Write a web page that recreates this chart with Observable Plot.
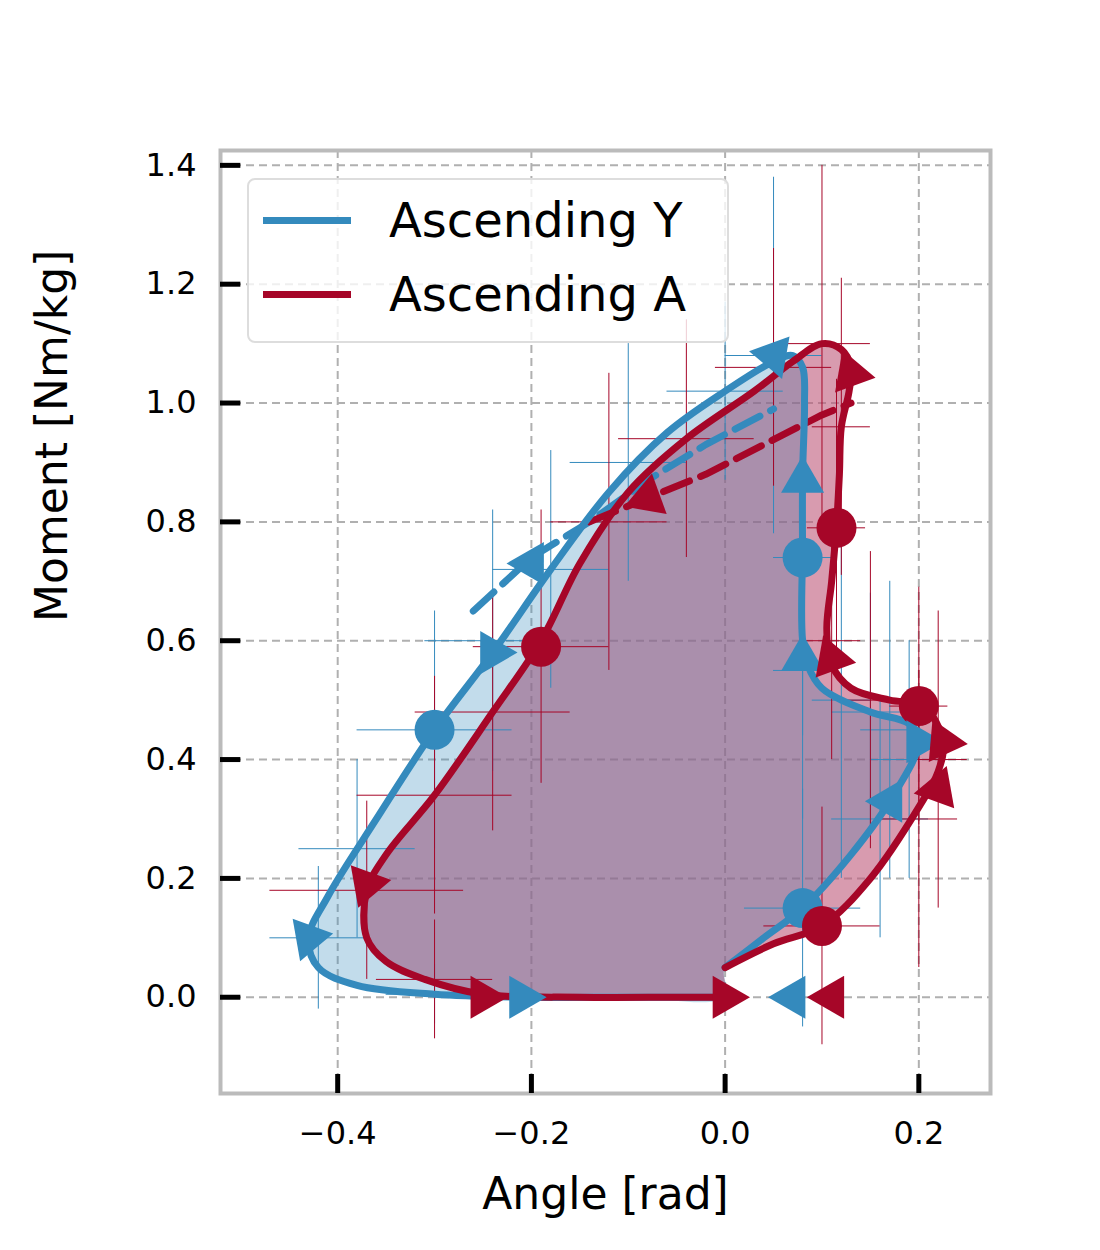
<!DOCTYPE html>
<html><head><meta charset="utf-8">
<script src="https://cdn.jsdelivr.net/npm/d3@7"></script>
<script src="https://cdn.jsdelivr.net/npm/@observablehq/plot@0.6"></script>
<style>
body{margin:0;background:#fff;font-family:"DejaVu Sans",sans-serif}
#wrap{position:relative;width:1100px;height:1250px}
#legend{position:absolute;left:247px;top:178px;width:482px;height:165px;border:2px solid #ddd;border-radius:8px;background:rgba(255,255,255,0.8);font-size:48px;box-sizing:border-box}
#legend div{position:absolute;left:14px;display:flex;align-items:center}
#legend span.sw{display:inline-block;width:88px;height:7px;margin-right:38px}
</style></head><body>
<div id="wrap"><div id="chart"></div>
<div id="legend">
<div style="top:12px"><span class="sw" style="background:#348abd"></span>Ascending Y</div>
<div style="top:86px"><span class="sw" style="background:#a60628"></span>Ascending A</div>
</div></div>
<script>
const blue = "#348abd", red = "#a60628";
// Ascending Y loop (angle, moment)
const blueX = [0.08,0.08,0.082,0.08,0.07,0.05,0.0,-0.06,-0.12,-0.18,-0.24,-0.3,-0.36,-0.41,-0.43,-0.42,-0.38,-0.3,-0.2,-0.1,0.0];
const blueY = [0.74,0.88,1.0,1.06,1.08,1.07,1.02,0.95,0.85,0.72,0.58,0.45,0.3,0.17,0.1,0.05,0.02,0.005,0.0,0.0,0.0];
const blueX2 = [0.0,0.04,0.08,0.13,0.17,0.2,0.19,0.15,0.1,0.085,0.08,0.08];
const blueY2 = [0.05,0.1,0.15,0.24,0.33,0.43,0.46,0.48,0.52,0.56,0.6,0.74];
const blueDashX = [-0.26,-0.2,-0.14,-0.08,-0.02,0.05];
const blueDashY = [0.65,0.74,0.8,0.87,0.93,0.99];
// Ascending A loop
const redX = [0.115,0.118,0.12,0.128,0.13,0.12,0.1,0.07,0.03,-0.04,-0.1,-0.15,-0.19,-0.24,-0.3,-0.35,-0.37,-0.37,-0.35,-0.31,-0.25,-0.15,-0.05,0.0];
const redY = [0.79,0.88,0.96,1.02,1.06,1.09,1.1,1.07,1.02,0.94,0.85,0.73,0.6,0.48,0.34,0.24,0.18,0.1,0.06,0.03,0.005,0.0,0.0,0.0];
const redX2 = [0.0,0.05,0.1,0.15,0.2,0.22,0.225,0.205,0.17,0.13,0.11,0.105,0.11,0.115];
const redY2 = [0.05,0.09,0.12,0.2,0.32,0.38,0.43,0.49,0.5,0.52,0.56,0.62,0.7,0.79];
const redDashX = [-0.14,-0.08,-0.02,0.04,0.1,0.13];
const redDashY = [0.8,0.84,0.88,0.93,0.98,1.0];
// markers
const blueDots = [[0.08,0.74],[-0.3,0.45],[0.08,0.15]];
const redDots = [[0.115,0.79],[-0.19,0.59],[0.1,0.12],[0.2,0.49]];
const blueArrows = [[0.08,0.87,0],[0.05,1.08,40],[-0.24,0.58,-150],[-0.43,0.1,-160],[-0.21,0.0,90],[0.07,0.0,-90],[0.2,0.43,90],[0.08,0.57,0],[0.17,0.33,30],[-0.2,0.73,30]];
const redArrows = [[0.13,1.05,100],[-0.08,0.84,-110],[-0.37,0.19,-160],[-0.25,0.0,90],[0.0,0.0,90],[0.11,0.0,-90],[0.225,0.43,95],[0.11,0.57,-20],[0.22,0.35,20]];
// error bars: angle, moment, angle err, moment err
const blueErr = [[-0.42,0.1,0.05,0.12],[-0.38,0.25,0.06,0.15],[-0.3,0.45,0.08,0.2],[-0.24,0.6,0.07,0.22],[-0.18,0.72,0.06,0.2],[-0.1,0.9,0.06,0.2],[0.0,1.02,0.06,0.15],[0.05,1.08,0.05,0.3],[0.08,0.74,0.03,0.3],[0.08,0.55,0.03,0.25],[0.15,0.48,0.04,0.2],[0.19,0.4,0.04,0.2],[0.16,0.3,0.05,0.2],[0.08,0.15,0.06,0.2],[-0.3,0.005,0.05,0.05],[0.12,0.5,0.03,0.3],[0.17,0.45,0.03,0.25]];
const redErr = [[-0.37,0.18,0.1,0.15],[-0.3,0.34,0.08,0.2],[-0.24,0.48,0.08,0.2],[-0.19,0.59,0.07,0.23],[-0.12,0.8,0.06,0.25],[-0.04,0.94,0.07,0.2],[0.05,1.06,0.06,0.2],[0.1,1.1,0.05,0.3],[0.12,0.96,0.03,0.25],[0.115,0.79,0.03,0.25],[0.11,0.6,0.03,0.2],[0.2,0.49,0.03,0.2],[0.22,0.4,0.03,0.25],[0.2,0.3,0.04,0.25],[0.1,0.12,0.06,0.2],[-0.3,0.03,0.06,0.1],[0.15,0.5,0.03,0.25]];
const xt = [-0.4,-0.2,0.0,0.2], yt = [0,0.2,0.4,0.6,0.8,1.0,1.2,1.4];

const pts = (xs, ys) => xs.map((x, i) => ({x, y: ys[i]}));
const blueLoop = pts(blueX, blueY).concat(pts(blueX2, blueY2));
const redLoop = pts(redX, redY).concat(pts(redX2, redY2));
const toObj = a => a.map(d => ({x: d[0], y: d[1], ex: d[2], ey: d[3]}));
const curve = "catmull-rom";
const fmt = d => d3.format(".1f")(d).replace("-", "−");

const chart = Plot.plot({
  width: 1100, height: 1250,
  marginLeft: 220, marginRight: 110, marginTop: 150, marginBottom: 157,
  style: {fontFamily: "DejaVu Sans", fontSize: "32px", color: "#000"},
  x: {domain: [-0.521, 0.274], label: null},
  y: {domain: [-0.162, 1.425], label: null},
  marks: [
    Plot.gridX(xt, {stroke: "#b0b0b0", strokeOpacity: 1, strokeWidth: 2, strokeDasharray: "8,5"}),
    Plot.gridY(yt, {stroke: "#b0b0b0", strokeOpacity: 1, strokeWidth: 2, strokeDasharray: "8,5"}),
    Plot.line(redLoop, {x: "x", y: "y", curve, fill: "#e2778f", fillOpacity: 0.5, stroke: "none"}),
    Plot.line(blueLoop, {x: "x", y: "y", curve, fill: blue, fillOpacity: 0.3, stroke: "none"}),
    Plot.line(redLoop, {x: "x", y: "y", curve, fill: "#7a2050", fillOpacity: 0.2, stroke: "none"}),
    Plot.ruleX(toObj(blueErr), {x: "x", y1: d => d.y - d.ey, y2: d => d.y + d.ey, stroke: blue, strokeWidth: 1}),
    Plot.ruleY(toObj(blueErr), {y: "y", x1: d => d.x - d.ex, x2: d => d.x + d.ex, stroke: blue, strokeWidth: 1}),
    Plot.ruleX(toObj(redErr), {x: "x", y1: d => d.y - d.ey, y2: d => d.y + d.ey, stroke: red, strokeWidth: 1}),
    Plot.ruleY(toObj(redErr), {y: "y", x1: d => d.x - d.ex, x2: d => d.x + d.ex, stroke: red, strokeWidth: 1}),
    Plot.line(pts(blueDashX, blueDashY), {x: "x", y: "y", stroke: blue, strokeWidth: 7, strokeDasharray: "28,12"}),
    Plot.line(pts(redDashX, redDashY), {x: "x", y: "y", stroke: red, strokeWidth: 7, strokeDasharray: "28,12"}),
    Plot.line(pts(blueX, blueY), {x: "x", y: "y", curve, stroke: blue, strokeWidth: 7}),
    Plot.line(pts(blueX2, blueY2), {x: "x", y: "y", curve, stroke: blue, strokeWidth: 7}),
    Plot.line(pts(redX, redY), {x: "x", y: "y", curve, stroke: red, strokeWidth: 7}),
    Plot.line(pts(redX2, redY2), {x: "x", y: "y", curve, stroke: red, strokeWidth: 7}),
    Plot.dot(blueDots, {x: d => d[0], y: d => d[1], r: 20, fill: blue}),
    Plot.dot(redDots, {x: d => d[0], y: d => d[1], r: 20, fill: red}),
    Plot.dot(blueArrows, {x: d => d[0], y: d => d[1], rotate: d => d[2], symbol: "triangle", r: 16, fill: blue}),
    Plot.dot(redArrows, {x: d => d[0], y: d => d[1], rotate: d => d[2], symbol: "triangle", r: 16, fill: red}),
    Plot.frame({stroke: "#bbb", strokeWidth: 4}),
    Plot.axisX(xt, {tickSize: 0, tickPadding: 28, tickFormat: fmt, fontSize: 32}),
    Plot.axisY(yt, {tickSize: 0, tickPadding: 24, tickFormat: fmt, fontSize: 32}),
    Plot.ruleX(xt, {y1: -0.162, y2: -0.13, stroke: "#000", strokeWidth: 5}),
    Plot.ruleY(yt, {x1: -0.521, x2: -0.5, stroke: "#000", strokeWidth: 5}),
    Plot.text(["Angle [rad]"], {frameAnchor: "bottom", dy: 115, fontSize: 44}),
    Plot.text(["Moment [Nm/kg]"], {frameAnchor: "left", dx: -168, rotate: -90, fontSize: 44})
  ]
});
document.getElementById("chart").append(chart);
</script>
</body></html>
